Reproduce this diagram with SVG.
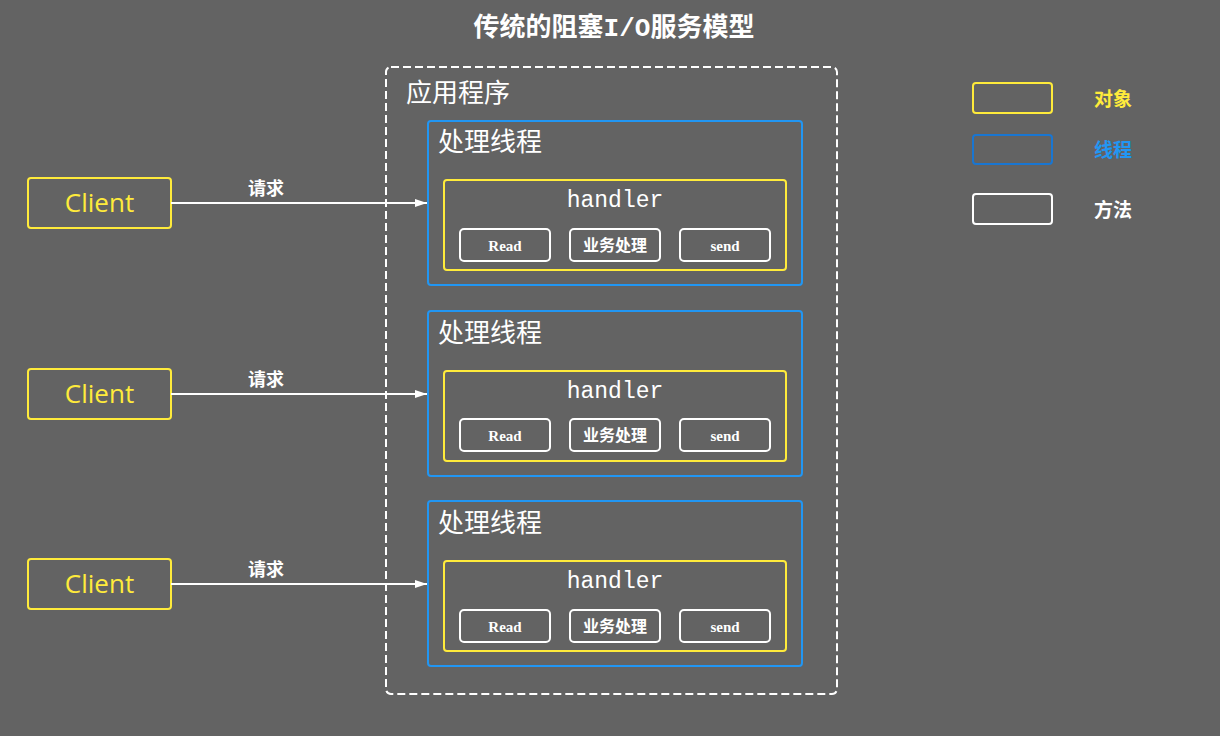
<svg xmlns="http://www.w3.org/2000/svg" width="1220" height="736" viewBox="0 0 1220 736">
<defs>
<style>
.cjk{font-family:"Noto Sans CJK SC","Liberation Serif",serif;}
.title{font-size:26px;font-weight:bold;fill:#ffffff;}
.big{font-size:26px;fill:#ffffff;}
.thread{fill:none;stroke:#2196F3;stroke-width:2;}
.obj{fill:none;stroke:#FFEB3B;stroke-width:2;}
.meth{fill:none;stroke:#ffffff;stroke-width:2;}
.hdl{font-family:"Liberation Mono","DejaVu Sans Mono",monospace;font-size:23px;fill:#ffffff;}
.mt{font-family:"Liberation Serif","Noto Sans CJK SC",serif;font-size:15px;font-weight:bold;fill:#ffffff;}
.mtc{font-family:"Noto Sans CJK SC",serif;font-size:16px;font-weight:bold;fill:#ffffff;}
.client{font-family:"Open Sans","Noto Sans",sans-serif;font-size:26px;fill:#FFEB3B;}
.req{font-size:18px;font-weight:bold;fill:#ffffff;}
.conn{stroke:#ffffff;stroke-width:2;fill:none;}
.leg{font-size:19px;font-weight:bold;}
.mono{font-family:"Liberation Mono",monospace;}
</style>
<marker id="arr" viewBox="0 0 12 10" refX="12" refY="5" markerWidth="12" markerHeight="10" markerUnits="userSpaceOnUse" orient="auto">
<path d="M0,1 L12,5 L0,9 Z" fill="#ffffff"/>
</marker>
</defs>
<rect x="0" y="0" width="1220" height="736" fill="#636363"/>
<text class="cjk title" x="614" y="36" text-anchor="middle">传统的阻塞<tspan class="mono">I/O</tspan>服务模型</text>

<g id="app">
<rect x="386" y="67" width="451" height="627" rx="5" fill="none" stroke="#ffffff" stroke-width="2" stroke-dasharray="8 4"/>
<text class="cjk big" x="406" y="102">应用程序</text>
</g>

<g id="thread1">
<rect class="thread" x="428" y="121" width="374" height="164" rx="3"/>
<text class="cjk big" x="438" y="151">处理线程</text>
<rect class="obj" x="444" y="180" width="342" height="90" rx="3"/>
<text class="hdl" x="615" y="207" text-anchor="middle">handler</text>
<rect class="meth" x="460" y="229" width="90" height="32" rx="4"/>
<text class="mt" x="505" y="251" text-anchor="middle">Read</text>
<rect class="meth" x="570" y="229" width="90" height="32" rx="4"/>
<text class="mtc" x="615" y="251" text-anchor="middle">业务处理</text>
<rect class="meth" x="680" y="229" width="90" height="32" rx="4"/>
<text class="mt" x="725" y="251" text-anchor="middle">send</text>
</g>

<g id="thread2">
<rect class="thread" x="428" y="311" width="374" height="165" rx="3"/>
<text class="cjk big" x="438" y="342">处理线程</text>
<rect class="obj" x="444" y="371" width="342" height="90" rx="3"/>
<text class="hdl" x="615" y="398" text-anchor="middle">handler</text>
<rect class="meth" x="460" y="419" width="90" height="32" rx="4"/>
<text class="mt" x="505" y="441" text-anchor="middle">Read</text>
<rect class="meth" x="570" y="419" width="90" height="32" rx="4"/>
<text class="mtc" x="615" y="441" text-anchor="middle">业务处理</text>
<rect class="meth" x="680" y="419" width="90" height="32" rx="4"/>
<text class="mt" x="725" y="441" text-anchor="middle">send</text>
</g>

<g id="thread3">
<rect class="thread" x="428" y="501" width="374" height="165" rx="3"/>
<text class="cjk big" x="438" y="532">处理线程</text>
<rect class="obj" x="444" y="561" width="342" height="90" rx="3"/>
<text class="hdl" x="615" y="588" text-anchor="middle">handler</text>
<rect class="meth" x="460" y="610" width="90" height="32" rx="4"/>
<text class="mt" x="505" y="632" text-anchor="middle">Read</text>
<rect class="meth" x="570" y="610" width="90" height="32" rx="4"/>
<text class="mtc" x="615" y="632" text-anchor="middle">业务处理</text>
<rect class="meth" x="680" y="610" width="90" height="32" rx="4"/>
<text class="mt" x="725" y="632" text-anchor="middle">send</text>
</g>

<g id="client1">
<rect class="obj" x="28" y="178" width="143" height="50" rx="3"/>
<text class="client" x="99.5" y="212" text-anchor="middle">Client</text>
</g>
<g id="client2">
<rect class="obj" x="28" y="369" width="143" height="50" rx="3"/>
<text class="client" x="99.5" y="403" text-anchor="middle">Client</text>
</g>
<g id="client3">
<rect class="obj" x="28" y="559" width="143" height="50" rx="3"/>
<text class="client" x="99.5" y="593" text-anchor="middle">Client</text>
</g>

<g id="connectors">
<line class="conn" x1="171" y1="203" x2="427" y2="203" marker-end="url(#arr)"/>
<text class="cjk req" x="266" y="195" text-anchor="middle">请求</text>
<line class="conn" x1="171" y1="394" x2="427" y2="394" marker-end="url(#arr)"/>
<text class="cjk req" x="266" y="386" text-anchor="middle">请求</text>
<line class="conn" x1="171" y1="584" x2="427" y2="584" marker-end="url(#arr)"/>
<text class="cjk req" x="266" y="576" text-anchor="middle">请求</text>
</g>

<g id="legend-object">
<rect x="973" y="83" width="79" height="30" rx="3" fill="none" stroke="#FFEB3B" stroke-width="2"/>
<text class="cjk leg" x="1094" y="106" fill="#FFEB3B">对象</text>
</g>
<g id="legend-thread">
<rect x="973" y="135" width="79" height="29" rx="3" fill="none" stroke="#1976D2" stroke-width="2"/>
<text class="cjk leg" x="1094" y="157" fill="#2196F3">线程</text>
</g>
<g id="legend-method">
<rect x="973" y="194" width="79" height="30" rx="3" fill="none" stroke="#ffffff" stroke-width="2"/>
<text class="cjk leg" x="1094" y="217" fill="#ffffff">方法</text>
</g>
</svg>
